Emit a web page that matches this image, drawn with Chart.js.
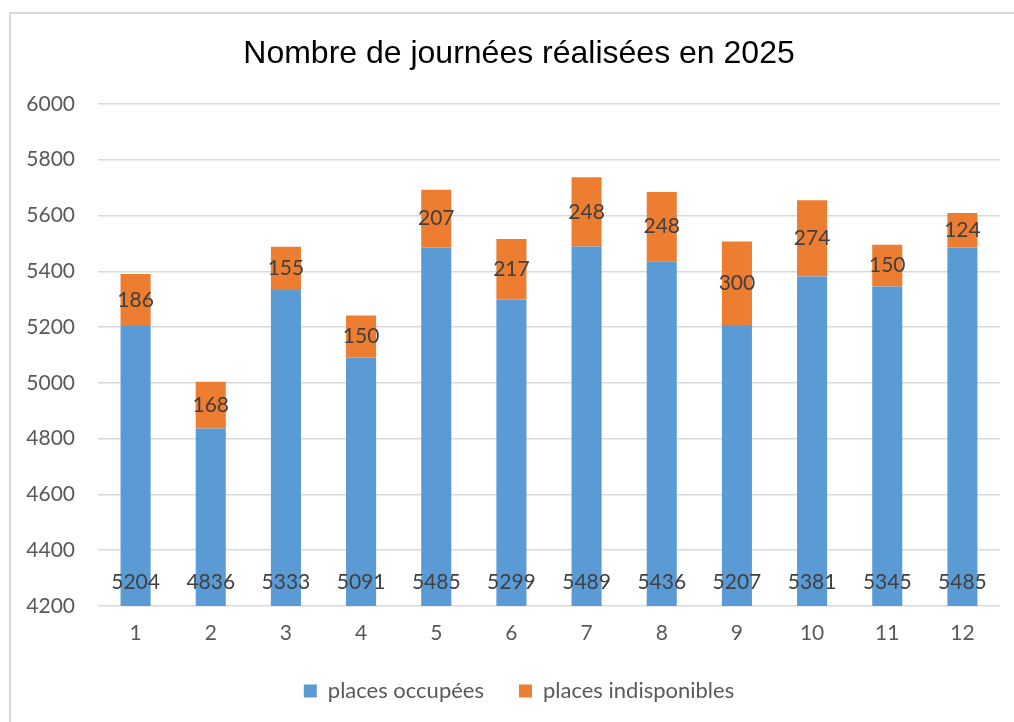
<!DOCTYPE html>
<html>
<head>
<meta charset="utf-8">
<script src="https://cdn.jsdelivr.net/npm/chart.js@4.4.1/dist/chart.umd.min.js"></script>
<style>
  html, body { margin: 0; padding: 0; background: #fff; overflow: hidden; }
  #box {
    position: absolute; left: 9px; top: 12px;
    width: 1018px; height: 708px;
    border-left: 2px solid #d9d9d9; border-top: 2px solid #d9d9d9;
  }
</style>
</head>
<body>
<div id="box"><canvas id="chart"></canvas></div>
<script>
// months 1..12
const months = ['1', '2', '3', '4', '5', '6', '7', '8', '9', '10', '11', '12'];
const placesOccupees = [5204, 4836, 5333, 5091, 5485, 5299, 5489, 5436, 5207, 5381, 5345, 5485];
const placesIndisponibles = [186, 168, 155, 150, 207, 217, 248, 248, 300, 274, 150, 124];

const LABEL_FONT = '21px Lato, "Open Sans", sans-serif';

// draws the value labels (no datalabels plugin offline)
const valueLabels = {
  id: 'valueLabels',
  afterDatasetsDraw(chart) {
    const ctx = chart.ctx;
    const yScale = chart.scales.y;
    ctx.save();
    ctx.font = LABEL_FONT;
    ctx.fillStyle = '#404040';
    ctx.textAlign = 'center';
    ctx.textBaseline = 'middle';
    chart.getDatasetMeta(0).data.forEach((bar, i) => {
      ctx.fillText(String(placesOccupees[i]), bar.x, yScale.bottom - 24);
    });
    chart.getDatasetMeta(1).data.forEach((bar, i) => {
      ctx.fillText(String(placesIndisponibles[i]), bar.x, (bar.y + bar.base) / 2);
    });
    ctx.restore();
  }
};

(function() {
  const ctx = document.getElementById('chart');

  var opts = {
    responsive: true,
    maintainAspectRatio: false,
    animation: false,
    layout: {
      padding: {top: 0, left: 27, right: 29, bottom: 10}
    },
    plugins: {
      title: {
        display: true,
        text: 'Nombre de journées réalisées en 2025',
        color: '#000',
        font: {family: '"Liberation Sans", Arial, sans-serif', size: 32, weight: 'normal'},
        padding: {top: 21, bottom: 30.5}
      },
      legend: {
        position: 'bottom',
        labels: {
          boxWidth: 13,
          boxHeight: 13,
          padding: 35,
          color: '#595959',
          font: {family: 'Lato, "Open Sans", sans-serif', size: 22}
        }
      },
      tooltip: {enabled: false}
    },
    scales: {
      x: {
        stacked: true,
        grid: {display: false},
        border: {display: false},
        ticks: {color: '#595959', padding: 7, font: {family: 'Lato, "Open Sans", sans-serif', size: 21}},
        afterFit: (s) => { s.height = 39; }
      },
      y: {
        stacked: true,
        min: 4200,
        max: 6000,
        grid: {color: '#d9d9d9', lineWidth: 1.5, drawTicks: false},
        border: {display: false},
        ticks: {
          stepSize: 200,
          color: '#595959',
          padding: 23,
          font: {family: 'Lato, "Open Sans", sans-serif', size: 21},
          callback: (v) => String(v)
        },
        afterFit: (s) => {
          s.width = 60;
          // labels hang into the left padding, so don't clip them to the axis box
          s._computeLabelArea = () => undefined;
        }
      }
    }
  };

  new Chart(ctx, {
    type: 'bar',
    options: opts,
    plugins: [valueLabels],
    data: {
      labels: months,
      datasets: [
        {
          label: 'places occupées',
          data: placesOccupees,
          backgroundColor: '#5B9BD5',
          categoryPercentage: 1.0,
          barPercentage: 0.4
        },
        {
          label: 'places indisponibles',
          data: placesIndisponibles,
          backgroundColor: '#ED7D31',
          categoryPercentage: 1.0,
          barPercentage: 0.4
        }
      ]
    }
  });
})();
</script>
</body>
</html>
